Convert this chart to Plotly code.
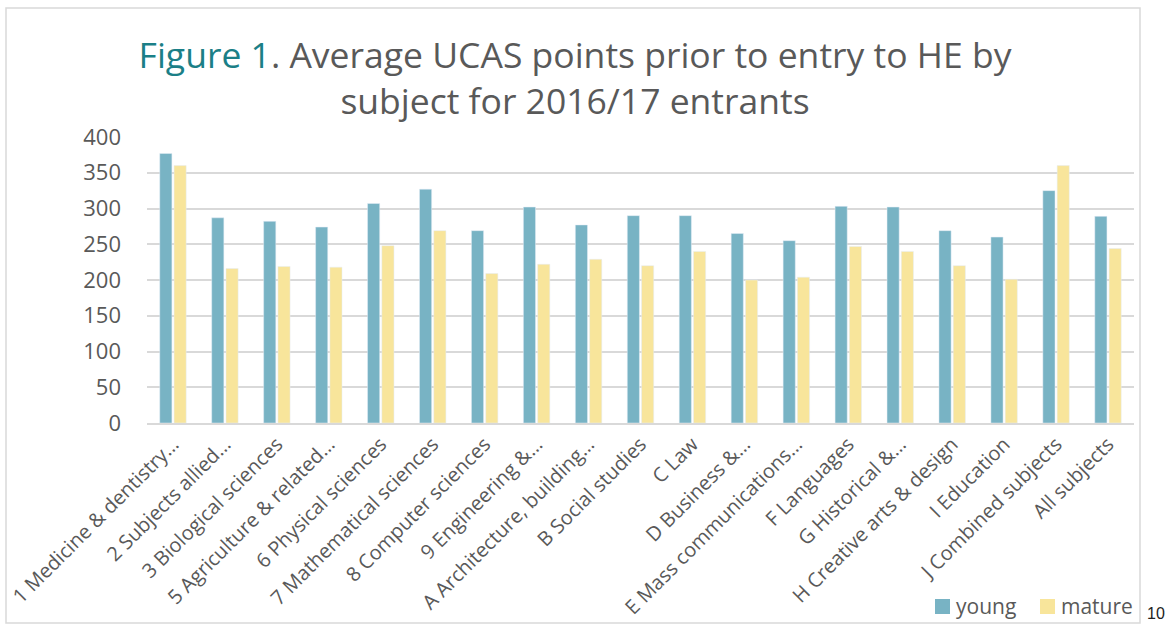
import plotly.graph_objects as go

categories = [
    "1 Medicine & dentistry…", "2 Subjects allied…", "3 Biological sciences",
    "5 Agriculture & related…", "6 Physical sciences", "7 Mathematical sciences",
    "8 Computer sciences", "9 Engineering &…", "A Architecture, building…",
    "B Social studies", "C Law", "D Business &…", "E Mass communications…",
    "F Languages", "G Historical &…", "H Creative arts & design", "I Education",
    "J Combined subjects", "All subjects",
]
young = [377, 287, 282, 274, 307, 327, 269, 302, 277, 290, 290, 265, 255, 303, 302, 269, 260, 325, 289]
mature = [360, 216, 219, 218, 248, 269, 209, 222, 229, 220, 240, 200, 204, 247, 240, 220, 201, 360, 244]
y_ticks = [0, 50, 100, 150, 200, 250, 300, 350, 400]
series_names = ["young", "mature"]
series_colors = ["#78B3C4", "#F8E59B"]

FONT = "Open Sans"
GREY = "#595959"

fig = go.Figure()
fig.add_trace(go.Bar(name=series_names[0], x=categories, y=young, marker_color=series_colors[0]))
fig.add_trace(go.Bar(name=series_names[1], x=categories, y=mature, marker_color=series_colors[1]))

L, R, T, B = 147, 34, 137, 203
W, H = 1168, 626
pw, ph = W - L - R, H - T - B

def px_x(p):
    return (p - L) / pw

def px_y(p):
    return (H - B - p) / ph

# manual legend (square + label), matching the reference placement
legend_sq_x = [935, 1040]
shapes = [dict(
    type="rect", xref="paper", yref="paper",
    x0=px_x(6), x1=px_x(1140), y0=px_y(623), y1=px_y(8),
    line=dict(color="#D9D9D9", width=1.5), fillcolor="rgba(0,0,0,0)", layer="below",
)]
annotations = [dict(
    text="10", xref="paper", yref="paper", x=px_x(1156), y=px_y(613),
    xanchor="center", yanchor="middle",
    showarrow=False, font=dict(family="Liberation Sans", size=16, color="#222222"),
)]
for name, color, sx in zip(series_names, series_colors, legend_sq_x):
    shapes.append(dict(
        type="rect", xref="paper", yref="paper",
        x0=px_x(sx), x1=px_x(sx + 15), y0=px_y(614), y1=px_y(599),
        line=dict(width=0), fillcolor=color,
    ))
    annotations.append(dict(
        text=name, xref="paper", yref="paper", x=px_x(sx + 19), y=px_y(606),
        xanchor="left", yanchor="middle", showarrow=False,
        font=dict(family=FONT, size=21, color=GREY),
    ))

fig.update_layout(
    width=W, height=H,
    margin=dict(l=L, r=R, t=T, b=B, pad=0, autoexpand=False),
    paper_bgcolor="white", plot_bgcolor="white",
    barmode="group", bargap=0.45, bargroupgap=0.15,
    font=dict(family=FONT, color=GREY),
    showlegend=False,
    title=dict(
        text="<span style='color:#1B7F87'>Figure 1</span>. Average UCAS points prior to entry to HE by<br>subject for 2016/17 entrants",
        x=575 / W, xref="container", xanchor="center",
        y=1 - 68 / H, yref="container", yanchor="middle",
        font=dict(family=FONT, size=35.5, color=GREY),
    ),
    xaxis=dict(
        tickangle=-45, tickfont=dict(size=20, color=GREY),
        showline=True, linecolor="#D9D9D9", linewidth=1.5,
        showgrid=False, ticks="", automargin=False,
    ),
    yaxis=dict(
        range=[0, 400], tickvals=y_ticks, tickfont=dict(size=22, color=GREY),
        showgrid=True, gridcolor="#D9D9D9", gridwidth=1.5,
        zeroline=False, showline=False, ticks="", ticklabelstandoff=25,
        automargin=False,
    ),
    shapes=shapes,
    annotations=annotations,
)

fig.write_html(
    "out.html",
    config={"displayModeBar": False},
    post_script="document.body.style.margin='0';document.body.style.overflow='hidden';",
)
